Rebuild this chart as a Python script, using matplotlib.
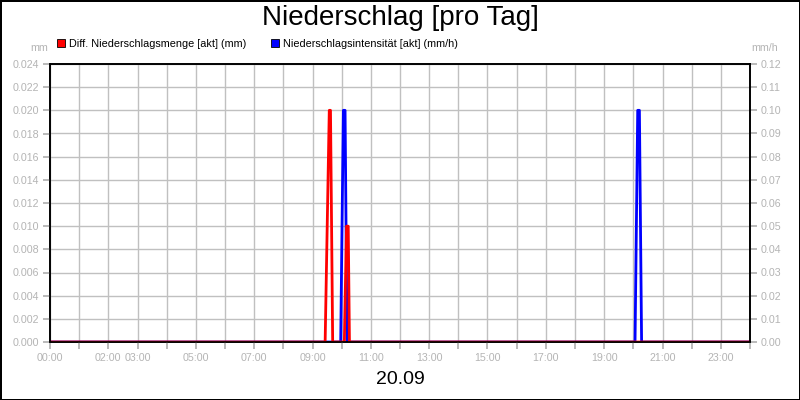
import matplotlib
matplotlib.use('Agg')
import numpy as np
import matplotlib.pyplot as plt
from matplotlib.patches import Patch

plt.rcParams['font.family'] = ['Liberation Sans', 'DejaVu Sans']

# Zeitpunkte in Minuten seit 00:00
menge_t = [0, 566, 574.5, 577, 581.5, 605.5, 610, 613.5, 616, 1440]
menge_v = [0, 0, 0.020, 0.020, 0, 0, 0.010, 0.010, 0, 0]          # mm
intens_t = [0, 598, 603.5, 607, 611, 1203.5, 1209, 1212.5, 1217, 1440]
intens_v = [0, 0, 0.10, 0.10, 0, 0, 0.10, 0.10, 0, 0]              # mm/h

x_hours = list(range(0, 25))
x_labels = {0: '00:00', 2: '02:00', 3: '03:00', 5: '05:00', 7: '07:00', 9: '09:00',
            11: '11:00', 13: '13:00', 15: '15:00', 17: '17:00', 19: '19:00',
            21: '21:00', 23: '23:00'}
left_ticks = np.arange(0, 0.0241, 0.002)
right_ticks = np.arange(0, 0.121, 0.01)

grey = '#b4b4b4'
gridc = '#c0c0c0'

fig = plt.figure(figsize=(8, 4), dpi=100, edgecolor='black', linewidth=2)
ax = fig.add_axes([50/800, 58/400, 700/800, 278/400])
ax2 = ax.twinx()

ax.set_zorder(ax2.get_zorder() + 1)
ax.patch.set_visible(False)
ax2.patch.set_visible(True)
ax2.patch.set_facecolor('white')

ax2.plot(np.array(intens_t) / 60, intens_v, color='#0000ff', lw=2)
ax.plot(np.array(menge_t) / 60, menge_v, color='#ff0000', lw=2)

ax.set_xlim(0, 24)
ax.set_ylim(0, 0.024)
ax2.set_ylim(0, 0.12)

ax.set_xticks(x_hours)
ax.set_xticklabels([x_labels.get(h, '') for h in x_hours])
ax.set_yticks(left_ticks)
ax.set_yticklabels(['%.3f' % v for v in left_ticks])
ax2.set_yticks(right_ticks)
ax2.set_yticklabels(['%.2f' % v for v in right_ticks])

ax.tick_params(axis='both', colors=grey, labelcolor=grey, labelsize=7.7, length=5, width=1.3, pad=3)
ax2.tick_params(axis='y', colors=grey, labelcolor=grey, labelsize=7.7, length=5, width=1.3, pad=3)

# Gitter im unteren Achsenobjekt, damit die Linien darüber liegen
ax2.xaxis.set_visible(True)
ax2.set_xticks(x_hours)
ax2.tick_params(axis='x', labelbottom=False, length=0)
ax2.grid(True, color=gridc, lw=1)
ax2.set_axisbelow(True)

for a in (ax, ax2):
    for s in a.spines.values():
        s.set_color('black')
        s.set_linewidth(1.2)

fig.text(0.5, 1 - 18/400, 'Niederschlag [pro Tag]', ha='center', va='center', fontsize=20)
fig.text(0.5, 1 - 379/400, '20.09', ha='center', va='center', fontsize=14)
fig.text(48/800, 1 - 48/400, 'mm', ha='right', va='center', fontsize=7.7, color=grey)
fig.text(778/800, 1 - 48/400, 'mm/h', ha='right', va='center', fontsize=7.7, color=grey)

handles = [Patch(facecolor='#ff0000', edgecolor='black', lw=0.6),
           Patch(facecolor='#0000ff', edgecolor='black', lw=0.6)]
labels = ['Diff. Niederschlagsmenge [akt] (mm)', 'Niederschlagsintensität [akt] (mm/h)']
fig.legend(handles, labels, loc='center left', bbox_to_anchor=(57/800, 1 - 44/400), ncol=2,
           frameon=False, fontsize=7.8, handlelength=0.75, handleheight=0.75,
           handletextpad=0.35, columnspacing=2.3, borderpad=0, borderaxespad=0)

fig.savefig('out.png', dpi=100)
